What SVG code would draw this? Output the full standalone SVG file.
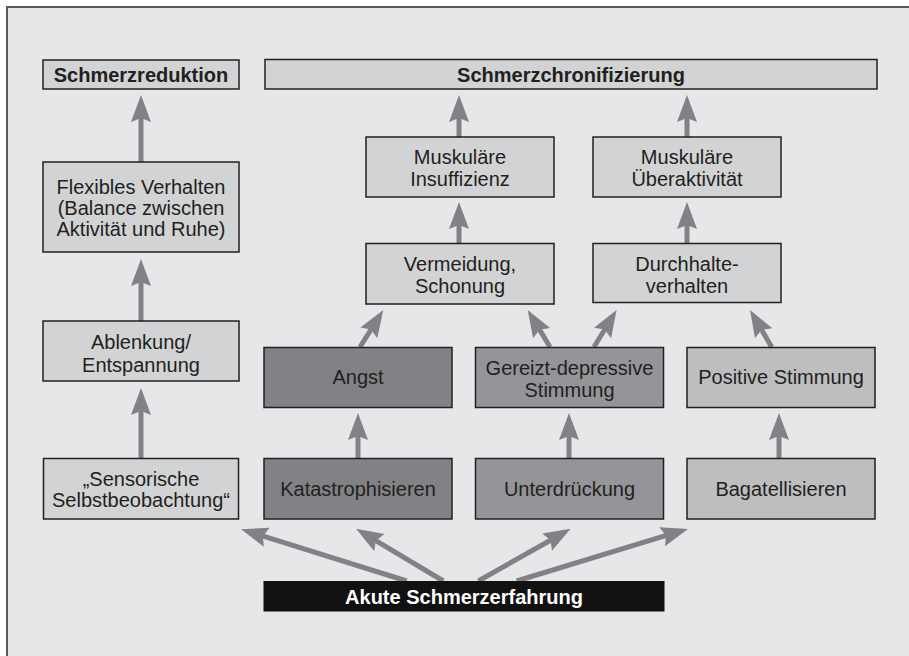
<svg xmlns="http://www.w3.org/2000/svg" width="909" height="656" viewBox="0 0 909 656">
<defs>
<style>
.bx{stroke:#231f20;stroke-width:1.5}
.l{fill:#d1d3d4}
.d{fill:#808285}
.m{fill:#939598}
.p{fill:#bcbec0}
.k{fill:#111}
text{font-family:"Liberation Sans",Arial,sans-serif;font-size:20px;fill:#231f20;text-anchor:middle}
text.b{font-weight:bold;font-size:20px}
text.w{font-weight:bold;font-size:20px;fill:#fff}
.a{stroke:#808285;stroke-width:5;fill:none;marker-end:url(#ah)}
</style>
<marker id="ah" markerUnits="userSpaceOnUse" viewBox="-8 -11 29 22" refX="0" refY="0" markerWidth="29" markerHeight="22" orient="auto">
<path d="M20,0 L-7,-10 L-3,0 L-7,10 Z" fill="#808285"/>
</marker>
</defs>
<rect x="0" y="0" width="909" height="656" fill="#fff"/>
<rect x="7" y="7" width="930" height="680" fill="#e6e7e8" stroke="#58595b" stroke-width="2"/>

<g id="connectors">
<line class="a" x1="141" y1="162" x2="141" y2="115"/>
<line class="a" x1="141" y1="321" x2="141" y2="279"/>
<line class="a" x1="141" y1="458" x2="141" y2="408"/>
<line class="a" x1="459" y1="137" x2="459" y2="115"/>
<line class="a" x1="459" y1="243" x2="459" y2="222"/>
<line class="a" x1="687" y1="137" x2="687" y2="115"/>
<line class="a" x1="687" y1="243" x2="687" y2="222"/>
<line class="a" x1="358" y1="458" x2="358" y2="433"/>
<line class="a" x1="569" y1="458" x2="569" y2="433"/>
<line class="a" x1="779" y1="458" x2="779" y2="433"/>
<line class="a" x1="360" y1="347" x2="372.6" y2="327"/>
<line class="a" x1="550" y1="347" x2="538" y2="327.1"/>
<line class="a" x1="594" y1="347" x2="606.2" y2="327"/>
<line class="a" x1="771.7" y1="347" x2="760.1" y2="327.2"/>
<line class="a" x1="406.7" y1="581" x2="260.1" y2="535.2"/>
<line class="a" x1="443.3" y1="581" x2="373.3" y2="539.1"/>
<line class="a" x1="478.3" y1="581" x2="553.2" y2="538.7"/>
<line class="a" x1="516.7" y1="581" x2="668.8" y2="534.7"/>
</g>

<g id="schmerzreduktion"><rect class="bx l" x="43" y="60" width="196" height="29"/><text class="b" x="141" y="82">Schmerzreduktion</text></g>
<g id="schmerzchronifizierung"><rect class="bx l" x="265" y="59.5" width="612" height="29.5"/><text class="b" x="571" y="82">Schmerzchronifizierung</text></g>

<g id="flexibles"><rect class="bx l" x="43" y="162" width="196" height="90"/><text x="141" y="193.5">Flexibles Verhalten</text><text x="141" y="214.5">(Balance zwischen</text><text x="141" y="235.5">Aktivität und Ruhe)</text></g>
<g id="ablenkung"><rect class="bx l" x="43" y="321" width="196" height="60"/><text x="141" y="348.5">Ablenkung/</text><text x="141" y="371.5">Entspannung</text></g>
<g id="sensorische"><rect class="bx l" x="43.5" y="458.5" width="195" height="60.5"/><text x="141" y="485.5">„Sensorische</text><text x="141" y="506.5">Selbstbeobachtung“</text></g>

<g id="insuffizienz"><rect class="bx l" x="366" y="137" width="188" height="60"/><text x="460" y="163.5">Muskuläre</text><text x="460" y="185.5">Insuffizienz</text></g>
<g id="ueberaktivitaet"><rect class="bx l" x="593" y="137" width="188" height="60"/><text x="687" y="163.5">Muskuläre</text><text x="687" y="185.5">Überaktivität</text></g>
<g id="vermeidung"><rect class="bx l" x="366" y="243.5" width="188" height="60.5"/><text x="460" y="271">Vermeidung,</text><text x="460" y="293">Schonung</text></g>
<g id="durchhalte"><rect class="bx l" x="593" y="243.5" width="188" height="59"/><text x="687" y="270.5">Durchhalte-</text><text x="687" y="292.5">verhalten</text></g>

<g id="angst"><rect class="bx d" x="264" y="347.5" width="188" height="60"/><text x="358" y="384">Angst</text></g>
<g id="gereizt"><rect class="bx m" x="475.5" y="347.5" width="188" height="60"/><text x="569.5" y="374.5">Gereizt-depressive</text><text x="569.5" y="396.5">Stimmung</text></g>
<g id="positive"><rect class="bx p" x="687" y="347.5" width="188" height="60"/><text x="781" y="384">Positive Stimmung</text></g>

<g id="katastrophisieren"><rect class="bx d" x="264" y="458.5" width="188" height="60.5"/><text x="358" y="495.5">Katastrophisieren</text></g>
<g id="unterdrueckung"><rect class="bx m" x="475.5" y="458.5" width="188" height="60.5"/><text x="569.5" y="495.5">Unterdrückung</text></g>
<g id="bagatellisieren"><rect class="bx p" x="687" y="458.5" width="188" height="60.5"/><text x="781" y="495.5">Bagatellisieren</text></g>

<g id="akute"><rect class="k" x="263.5" y="581" width="401" height="30.5"/><text class="w" x="464" y="603.5">Akute Schmerzerfahrung</text></g>
</svg>
